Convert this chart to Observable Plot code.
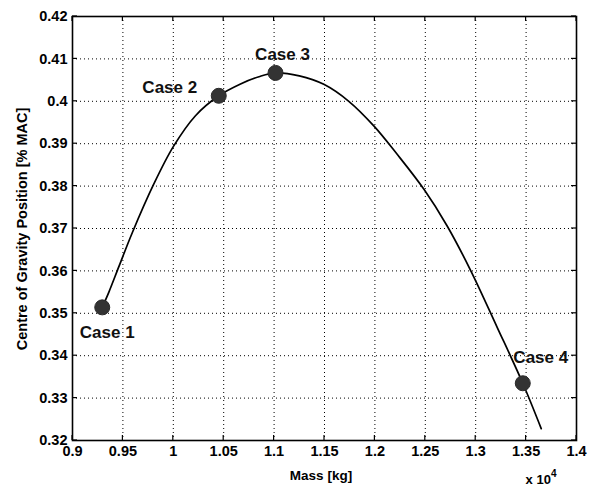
<!DOCTYPE html>
<html>
<head>
<meta charset="utf-8">
<script src="https://cdn.jsdelivr.net/npm/d3@7"></script>
<script src="https://cdn.jsdelivr.net/npm/@observablehq/plot@0.6"></script>
<style>
  html, body { margin: 0; padding: 0; background: #fff; }
  #chart { position: relative; width: 590px; height: 489px; }
  #chart svg text { font-weight: bold; }
</style>
</head>
<body>
<div id="chart"></div>
<script>
// Mass in units of 10^4 kg, CG position in fraction of MAC
const curveMass = [0.9295, 0.9361, 0.9460, 0.9593, 0.9807, 1.0000, 1.0220, 1.0451, 1.0667, 1.0850, 1.1014, 1.1250, 1.1493, 1.1741, 1.1989, 1.2221, 1.2485, 1.2717, 1.2948, 1.3213, 1.3467, 1.3650];
const curveCG   = [0.3514, 0.3550, 0.3610, 0.3690, 0.3805, 0.3893, 0.3966, 0.4013, 0.4041, 0.4058, 0.4067, 0.4060, 0.4040, 0.4000, 0.3942, 0.3875, 0.3793, 0.3706, 0.3602, 0.3467, 0.3335, 0.3228];

const caseNames = ["Case 1", "Case 2", "Case 3", "Case 4"];
const caseMass  = [0.9295, 1.0451, 1.1014, 1.3467];
const caseCG    = [0.3514, 0.4013, 0.4067, 0.3335];

const xTicks = [0.9, 0.95, 1, 1.05, 1.1, 1.15, 1.2, 1.25, 1.3, 1.35, 1.4];
const yTicks = [0.32, 0.33, 0.34, 0.35, 0.36, 0.37, 0.38, 0.39, 0.4, 0.41, 0.42];

const xLabel = "Mass [kg]";
const yLabel = "Centre of Gravity Position [% MAC]";
const xExponent = "4";

const curve = curveMass.map((m, i) => ({m, cg: curveCG[i]}));
const cases = caseNames.map((name, i) => ({name, m: caseMass[i], cg: caseCG[i]}));
// label offsets (pixels) relative to each marker
const labelDx = [5, -49, 7, 18];
const labelDy = [25, -8, -18, -26];

const fmt = d => String(+d.toFixed(2));
const font = "'Liberation Sans', Arial, Helvetica, sans-serif";

const plot = Plot.plot({
  width: 590,
  height: 489,
  marginLeft: 72,
  marginRight: 14,
  marginTop: 16,
  marginBottom: 49,
  style: {fontFamily: font, fontSize: "14px", color: "#000", background: "#fff"},
  x: {domain: [0.9, 1.4], label: null},
  y: {domain: [0.32, 0.42], label: null},
  marks: [
    Plot.ruleX(xTicks.slice(1, -1), {stroke: "#000", strokeWidth: 1, strokeDasharray: "1,3"}),
    Plot.ruleY(yTicks.slice(1, -1), {stroke: "#000", strokeWidth: 1, strokeDasharray: "1,3"}),
    Plot.axisX({ticks: xTicks, tickFormat: fmt, tickSize: 0, tickPadding: 5, anchor: "bottom", fontSize: 14.5, fill: "#000"}),
    Plot.axisY({ticks: yTicks, tickFormat: fmt, tickSize: 0, tickPadding: 5, anchor: "left", fontSize: 14.5, fill: "#000"}),
    Plot.line(curve, {x: "m", y: "cg", curve: "catmull-rom", stroke: "#000", strokeWidth: 1.7}),
    Plot.dot(cases, {x: "m", y: "cg", r: 7.5, fill: "#333", stroke: "#2a2a2a", strokeWidth: 1}),
    ...cases.map((c, i) => Plot.text([c], {x: "m", y: "cg", text: "name", dx: labelDx[i], dy: labelDy[i], fontSize: 17, fill: "#111"})),
    Plot.frame({stroke: "#000", strokeWidth: 1.6})
  ]
});

document.getElementById("chart").appendChild(plot);

// Inward tick marks on all four sides (MATLAB style), positioned by the plot's scales
const sx = plot.scale("x"), sy = plot.scale("y");
const svg = d3.select(plot);
const L = 72, R = 590 - 14, T = 16, B = 489 - 49, tl = 5;
const tg = svg.append("g").attr("stroke", "#000").attr("stroke-width", 1.2);
xTicks.forEach(v => {
  const px = sx.apply(v);
  tg.append("line").attr("x1", px).attr("x2", px).attr("y1", B).attr("y2", B - tl);
  tg.append("line").attr("x1", px).attr("x2", px).attr("y1", T).attr("y2", T + tl);
});
yTicks.forEach(v => {
  const py = sy.apply(v);
  tg.append("line").attr("y1", py).attr("y2", py).attr("x1", L).attr("x2", L + tl);
  tg.append("line").attr("y1", py).attr("y2", py).attr("x1", R).attr("x2", R - tl);
});

// Axis titles
svg.append("text").attr("x", 321).attr("y", 480).attr("text-anchor", "middle")
  .attr("font-family", font).attr("font-size", 13.5).attr("fill", "#000").text(xLabel);
svg.append("text").attr("transform", "translate(27,229) rotate(-90)").attr("text-anchor", "middle")
  .attr("font-family", font).attr("font-size", 14.5).attr("fill", "#000").text(yLabel);
const ex = svg.append("text").attr("x", 541).attr("y", 484)
  .attr("font-family", font).attr("font-size", 13).attr("fill", "#000");
ex.append("tspan").text("x 10");
ex.append("tspan").attr("dy", -7).attr("font-size", 10).text(xExponent);
</script>
</body>
</html>
